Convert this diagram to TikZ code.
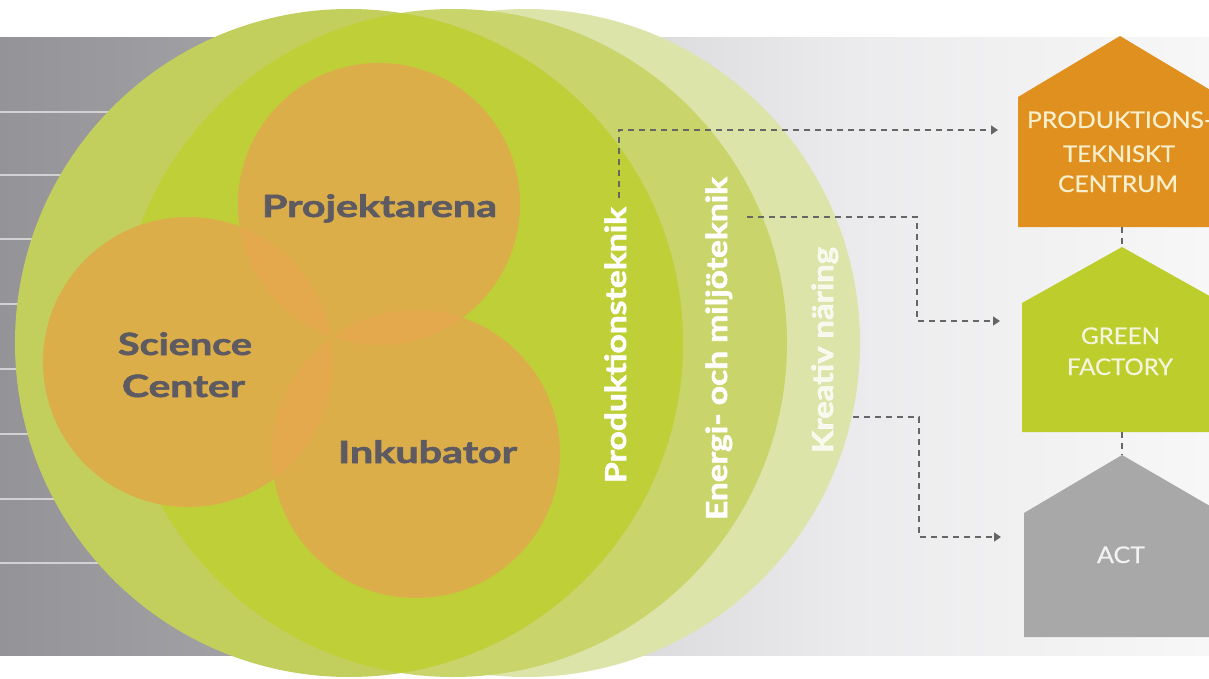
\documentclass[tikz,border=0pt]{standalone}
\usepackage{fontspec}
\setmainfont{Lato}
\newfontfamily\heavyfont{Lato Bold}[FakeBold=1.8]
\newfontfamily\housefont{Lato}[FakeBold=0.5]
\usepackage{graphicx}
\usetikzlibrary{arrows.meta}
\definecolor{bandA}{HTML}{949498}
\definecolor{bandB}{HTML}{A8A8AB}
\definecolor{bandC}{HTML}{DCDCDE}
\definecolor{bandD}{HTML}{EBEBED}
\definecolor{bandE}{HTML}{F7F7F7}
\definecolor{bandline}{HTML}{D2D2D5}
\definecolor{gPale}{HTML}{DCE4A9}
\definecolor{gMed}{HTML}{C9D56B}
\definecolor{gLight}{HTML}{C3CF5C}
\definecolor{gBright}{HTML}{BFCF38}
\definecolor{oBase}{HTML}{DBAE49}
\definecolor{oOver}{HTML}{E3A94C}
\definecolor{oTriple}{HTML}{E6A54D}
\definecolor{labelgray}{HTML}{5D5A62}
\definecolor{hOrange}{HTML}{E0901F}
\definecolor{hGreen}{HTML}{BCCD2C}
\definecolor{hGray}{HTML}{A8A8A8}
\definecolor{creamO}{HTML}{F8EFCC}
\definecolor{creamG}{HTML}{F3F5DC}
\definecolor{creamA}{HTML}{F2F2F2}
\definecolor{dashgray}{HTML}{666666}
\newcommand{\fitw}[2]{\resizebox{#1pt}{\height}{#2}}
\tikzset{
  biglabel/.style={inner sep=0pt, anchor=base, text=labelgray, font=\fontsize{30.7}{36}\heavyfont},
  bandlabel/.style={inner sep=0pt, anchor=base, rotate=90, text=white, font=\fontsize{29}{34}\heavyfont},
  houselabel/.style={inner sep=0pt, anchor=base, font=\fontsize{23}{28}\housefont},
  link/.style={draw=dashgray, line width=1.4pt, dash pattern=on 6pt off 5pt},
  linkarrow/.style={link, -{Triangle[length=7pt,width=9pt]}},
}
\begin{document}
\begin{tikzpicture}[x=1pt,y=-1pt]
\useasboundingbox (0,0) rectangle (1209,679);
\fill[white] (0,0) rectangle (1209,679);
% gray band
\shade[left color=bandA,right color=bandB] (0,38) rectangle (351,655);
\shade[left color=bandB,right color=bandC] (350,38) rectangle (651,655);
\shade[left color=bandC,right color=bandD] (650,38) rectangle (851,655);
\shade[left color=bandD,right color=bandE] (850,38) rectangle (1209,655);
\foreach \yy in {112,175,239,304,369,434,499,563}
  \draw[bandline, line width=1.5pt] (0,\yy) -- (500,\yy);
% green circles
\fill[gPale] (526,343) circle[radius=334];
\fill[gMed] (453,343) circle[radius=334];
\fill[gLight] (349,343) circle[radius=334];
\begin{scope}
  \clip (453,343) circle[radius=334];
  \fill[gBright] (349,343) circle[radius=334];
\end{scope}
% orange circles
\fill[oBase] (379,204) circle[radius=141];
\fill[oBase] (188,362) circle[radius=145];
\fill[oBase] (416,454) circle[radius=144];
\begin{scope}
  \clip (379,204) circle[radius=141];
  \fill[oOver] (188,362) circle[radius=145];
  \fill[oOver] (416,454) circle[radius=144];
\end{scope}
\begin{scope}
  \clip (188,362) circle[radius=145];
  \fill[oOver] (416,454) circle[radius=144];
\end{scope}
\begin{scope}
  \clip (188,362) circle[radius=145];
  \clip (379,204) circle[radius=141];
  \fill[oTriple] (416,454) circle[radius=144];
\end{scope}
% labels in circles
\node[biglabel] (proj) at (379.5,217) {\fitw{235}{Projektarena}};
\node[biglabel] (sci) at (185,355) {\fitw{134}{Science}};
\node[biglabel] (cen) at (183.5,397) {\fitw{123}{Center}};
\node[biglabel] (ink) at (427.5,463) {\fitw{179}{Inkubator}};
\node[bandlabel] (prod) at (626,345) {\fitw{276}{Produktionsteknik}};
\node[bandlabel] (ener) at (727,348.5) {\fitw{343}{Energi- och miljöteknik}};
\node[bandlabel, text=white, text opacity=0.8] (krea) at (833,350) {\fitw{206}{Kreativ näring}};
% houses
\fill[hOrange] (1018,227) -- (1018,97) -- (1120,36) -- (1222,97) -- (1222,227) -- cycle;
\fill[hGreen] (1022,432) -- (1022,303) -- (1122,247) -- (1222,303) -- (1222,432) -- cycle;
\fill[hGray] (1024,637) -- (1024,513) -- (1122,455) -- (1222,513) -- (1222,637) -- cycle;
\node[houselabel, text=creamO] (pt1) at (1120,128) {\fitw{186}{PRODUKTIONS-}};
\node[houselabel, text=creamO] (pt2) at (1119,162) {\fitw{112}{TEKNISKT}};
\node[houselabel, text=creamO] (pt3) at (1118,192) {\fitw{120}{CENTRUM}};
\node[houselabel, text=creamG] (gf1) at (1120.5,344) {\fitw{79}{GREEN}};
\node[houselabel, text=creamG] (gf2) at (1120,375) {\fitw{106}{FACTORY}};
\node[houselabel, text=creamA] (act) at (1121,563) {\fitw{48}{ACT}};
% connector points
\coordinate (h1bot) at (1122,227);
\coordinate (h2top) at (1122,247);
\coordinate (h2bot) at (1122,432);
\coordinate (h3top) at (1122,455);
\coordinate (s1) at (619,198);
\coordinate (e1) at (998,130);
\coordinate (s2) at (747,217);
\coordinate (e2) at (1000,321);
\coordinate (s3) at (853,417);
\coordinate (e3) at (1001,537);
\draw[linkarrow] (s1) -- (s1 |- e1) -- (e1);
\draw[linkarrow] (s2) -- (917,217) -- (917,321) -- (e2);
\draw[linkarrow] (s3) -- (919,417) -- (919,537) -- (e3);
\draw[link] (h1bot) -- (h2top);
\draw[link] (h2bot) -- (h3top);
\end{tikzpicture}
\end{document}
